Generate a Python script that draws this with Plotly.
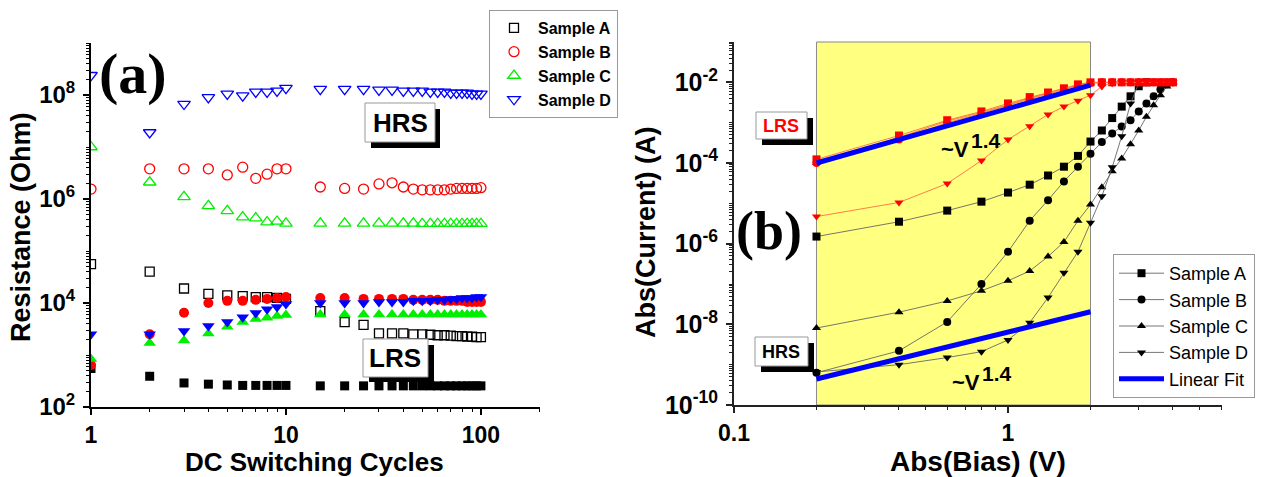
import plotly.graph_objects as go

W, H = 1271, 477
SANS = "Liberation Sans, Arial, sans-serif"
SERIF = "Liberation Serif, Times New Roman, serif"

# ---------------- Panel (a) data ----------------
cycles = [1, 2, 3, 4, 5, 6, 7, 8, 9, 10, 15, 20, 25, 30, 35, 40, 45, 50, 55, 60,
          65, 70, 75, 80, 85, 90, 95, 100]

a_hrs = [5.6e4, 4.0e4, 1.9e4, 1.5e4, 1.4e4, 1.35e4, 1.3e4, 1.3e4, 1.25e4, 1.2e4,
         7.0e3, 4.3e3, 3.8e3, 2.6e3, 2.6e3, 2.6e3, 2.5e3, 2.5e3, 2.45e3, 2.4e3,
         2.4e3, 2.35e3, 2.3e3, 2.3e3, 2.25e3, 2.25e3, 2.2e3, 2.2e3]
a_lrs = [5.5e2, 3.9e2, 2.9e2, 2.75e2, 2.65e2, 2.6e2, 2.6e2, 2.6e2, 2.6e2, 2.6e2,
         2.55e2, 2.55e2, 2.55e2, 2.55e2, 2.55e2, 2.55e2, 2.55e2, 2.55e2, 2.55e2, 2.55e2,
         2.55e2, 2.55e2, 2.55e2, 2.55e2, 2.55e2, 2.55e2, 2.55e2, 2.55e2]
b_hrs = [1.55e6, 3.8e6, 3.8e6, 3.8e6, 2.9e6, 4.1e6, 2.5e6, 3.0e6, 3.8e6, 3.8e6,
         1.7e6, 1.6e6, 1.55e6, 1.95e6, 2.05e6, 1.7e6, 1.55e6, 1.5e6, 1.5e6, 1.5e6,
         1.5e6, 1.55e6, 1.6e6, 1.6e6, 1.6e6, 1.6e6, 1.6e6, 1.65e6]
b_lrs = [6.4e2, 2.5e3, 6.5e3, 1.0e4, 1.1e4, 1.1e4, 1.15e4, 1.2e4, 1.25e4, 1.3e4,
         1.25e4, 1.25e4, 1.2e4, 1.2e4, 1.2e4, 1.2e4, 1.15e4, 1.15e4, 1.15e4, 1.15e4,
         1.1e4, 1.1e4, 1.1e4, 1.1e4, 1.05e4, 1.05e4, 1.05e4, 1.05e4]
c_hrs = [1.0e7, 2.1e6, 1.1e6, 7.4e5, 5.9e5, 4.5e5, 4.3e5, 3.6e5, 3.7e5, 3.4e5,
         3.4e5, 3.4e5, 3.4e5, 3.4e5, 3.4e5, 3.4e5, 3.4e5, 3.35e5, 3.35e5, 3.35e5,
         3.35e5, 3.35e5, 3.35e5, 3.35e5, 3.35e5, 3.35e5, 3.35e5, 3.35e5]
c_lrs = [8.4e2, 1.7e3, 1.9e3, 2.6e3, 3.5e3, 4.3e3, 4.9e3, 5.2e3, 5.6e3, 5.9e3,
         6.0e3, 6.0e3, 6.0e3, 6.0e3, 6.0e3, 6.0e3, 6.0e3, 6.0e3, 6.0e3, 6.0e3,
         6.0e3, 6.0e3, 6.0e3, 6.0e3, 6.0e3, 6.0e3, 6.0e3, 6.0e3]
d_hrs = [2.4e8, 1.9e7, 6.7e7, 9.0e7, 1.05e8, 9.7e7, 1.15e8, 1.15e8, 1.2e8, 1.35e8,
         1.3e8, 1.3e8, 1.3e8, 1.25e8, 1.25e8, 1.2e8, 1.2e8, 1.2e8, 1.15e8, 1.15e8,
         1.15e8, 1.1e8, 1.1e8, 1.1e8, 1.1e8, 1.05e8, 1.05e8, 1.05e8]
d_lrs = [2.5e3, 2.5e3, 2.9e3, 3.6e3, 4.3e3, 5.3e3, 6.4e3, 7.6e3, 8.4e3, 9.6e3,
         1.0e4, 1.0e4, 1.0e4, 1.05e4, 1.05e4, 1.05e4, 1.1e4, 1.1e4, 1.1e4, 1.15e4,
         1.15e4, 1.2e4, 1.2e4, 1.25e4, 1.25e4, 1.25e4, 1.3e4, 1.3e4]

# ---------------- Panel (b) data ----------------
bias = [0.2, 0.4, 0.6, 0.8, 1.0, 1.2, 1.4, 1.6, 1.8, 2.0,
        2.2, 2.4, 2.6, 2.8, 3.0, 3.2, 3.4, 3.6, 3.8, 4.0]

iv_a_hrs = [1.5e-6, 3.5e-6, 6.6e-6, 1.1e-5, 1.85e-5, 2.9e-5, 4.9e-5, 8.1e-5, 1.5e-4, 3.4e-4,
            6.4e-4, 1.3e-3, 2.5e-3, 4.5e-3, 8.0e-3, 1.0e-2]
iv_b_hrs = [6.3e-10, 2.2e-9, 1.15e-8, 1.0e-7, 6.3e-7, 3.7e-6, 1.2e-5, 3.5e-5, 8.1e-5, 1.7e-4,
            3.3e-4, 5.4e-4, 8.0e-4, 1.15e-3, 1.9e-3, 3.0e-3, 4.5e-3, 6.7e-3, 8.9e-3, 1.0e-2]
iv_c_hrs = [8.1e-9, 2.0e-8, 3.8e-8, 6.8e-8, 1.2e-7, 2.1e-7, 4.8e-7, 1.1e-6, 3.7e-6, 9.3e-6,
            2.5e-5, 6.2e-5, 1.3e-4, 2.9e-4, 6.4e-4, 1.4e-3, 2.7e-3, 4.8e-3, 7.9e-3, 1.0e-2]
iv_d_hrs = [6.6e-10, 1.0e-9, 1.5e-9, 2.1e-9, 4.1e-9, 1.1e-8, 4.6e-8, 1.9e-7, 6.3e-7, 3.3e-6,
            1.5e-5, 7.8e-5, 4.6e-4, 3.0e-3, 9.5e-3]

iv_a_lrs = [1.23e-4, 4.8e-4, 1.15e-3, 1.9e-3, 3.0e-3, 4.3e-3, 5.6e-3, 7.1e-3, 8.9e-3, 1.0e-2,
            1.0e-2, 1.0e-2, 1.0e-2, 1.0e-2, 1.0e-2, 1.0e-2, 1.0e-2, 1.0e-2, 1.0e-2, 1.0e-2]
iv_b_lrs = [1.0e-4, 3.8e-4, 1.0e-3, 1.7e-3, 2.7e-3, 3.9e-3, 5.2e-3, 6.6e-3, 8.3e-3, 9.6e-3,
            1.0e-2, 1.0e-2, 1.0e-2, 1.0e-2, 1.0e-2, 1.0e-2, 1.0e-2, 1.0e-2, 1.0e-2, 1.0e-2]
iv_c_lrs = [1.0e-4, 4.3e-4, 1.1e-3, 1.8e-3, 2.8e-3, 4.1e-3, 5.4e-3, 6.9e-3, 8.6e-3, 9.8e-3,
            1.0e-2, 1.0e-2, 1.0e-2, 1.0e-2, 1.0e-2, 1.0e-2, 1.0e-2, 1.0e-2, 1.0e-2, 1.0e-2]
iv_d_lrs = [4.7e-6, 1.05e-5, 3.1e-5, 1.15e-4, 3.8e-4, 8.1e-4, 1.6e-3, 2.5e-3, 3.5e-3, 4.8e-3,
            7.9e-3, 9.5e-3, 1.0e-2, 1.0e-2, 1.0e-2, 1.0e-2, 1.0e-2, 1.0e-2, 1.0e-2, 1.0e-2]

fit_v = [0.2, 2.0]
fit_lrs = [1.0e-4, 8.5e-3]
fit_hrs = [4.4e-10, 2.05e-8]
fit_window = [0.2, 2.0]

sample_names = ["Sample A", "Sample B", "Sample C", "Sample D"]

# ---------------- ticks ----------------
a_x_major = [1, 10, 100]
a_x_minor = [2, 3, 4, 5, 6, 7, 8, 9, 20, 30, 40, 50, 60, 70, 80, 90, 200]
a_y_major = [1e2, 1e4, 1e6, 1e8]
a_y_text = ["10<sup>2</sup>", "10<sup>4</sup>", "10<sup>6</sup>", "10<sup>8</sup>"]
a_y_minor = [m * 10.0 ** e for e in range(2, 9) for m in range(1, 10) if not (m == 1 and e % 2 == 0)] + [1e9]

b_x_major = [0.1, 1]
b_x_minor = [0.2, 0.3, 0.4, 0.5, 0.6, 0.7, 0.8, 0.9, 2, 3, 4, 5, 6]
b_y_major = [1e-10, 1e-8, 1e-6, 1e-4, 1e-2]
b_y_text = ["10<sup>-10</sup>", "10<sup>-8</sup>", "10<sup>-6</sup>", "10<sup>-4</sup>", "10<sup>-2</sup>"]
b_y_minor = [m * 10.0 ** e for e in range(-10, -1) for m in range(1, 10) if not (m == 1 and e % 2 == 0)] + [1e-1]

fig = go.Figure()

# ---------------- Panel (a) traces ----------------
a_style = [
    ("square", "black", a_hrs, a_lrs, 9),
    ("circle", "#ff0000", b_hrs, b_lrs, 10),
    ("triangle-up", "#00ee00", c_hrs, c_lrs, 11),
    ("triangle-down", "#0000ff", d_hrs, d_lrs, 11),
]
for name, (sym, col, hrs, lrs, sz) in zip(sample_names, a_style):
    fig.add_trace(go.Scatter(
        x=cycles, y=hrs, mode="markers", name=name, legend="legend",
        marker=dict(symbol=sym + "-open", size=sz, color=col, line=dict(width=1.3, color=col)),
        xaxis="x", yaxis="y"))
    fig.add_trace(go.Scatter(
        x=cycles, y=lrs, mode="markers", showlegend=False,
        marker=dict(symbol=sym, size=sz, color=col, line=dict(width=0)),
        xaxis="x", yaxis="y"))

# ---------------- Panel (b) traces ----------------
b_syms = ["square", "circle", "triangle-up", "triangle-down"]
hrs_sets = [iv_a_hrs, iv_b_hrs, iv_c_hrs, iv_d_hrs]
lrs_sets = [iv_a_lrs, iv_b_lrs, iv_c_lrs, iv_d_lrs]
for name, sym, ys in zip(sample_names, b_syms, hrs_sets):
    fig.add_trace(go.Scatter(
        x=bias[:len(ys)], y=ys, mode="lines+markers", name=name, legend="legend2",
        line=dict(color="#666666", width=0.9),
        marker=dict(symbol=sym, size=8, color="black"),
        xaxis="x2", yaxis="y2"))
fig.add_trace(go.Scatter(
    x=fit_v, y=fit_hrs, mode="lines", showlegend=False,
    line=dict(color="#0000ff", width=5), xaxis="x2", yaxis="y2"))
for sym, ys in zip(b_syms, lrs_sets):
    fig.add_trace(go.Scatter(
        x=bias[:len(ys)], y=ys, mode="lines+markers", showlegend=False,
        line=dict(color="#ff7040", width=0.9),
        marker=dict(symbol=sym, size=8, color="#ff0000"),
        xaxis="x2", yaxis="y2"))
fig.add_trace(go.Scatter(
    x=fit_v, y=fit_lrs, mode="lines", name="Linear Fit", legend="legend2",
    line=dict(color="#0000ff", width=5), xaxis="x2", yaxis="y2"))

# ---------------- axes ----------------
dom_ax = [91 / W, 540 / W]
dom_ay = [1 - 407 / H, 1 - 43 / H]
dom_bx = [734 / W, 1222 / W]
dom_by = [1 - 405 / H, 1 - 42 / H]
rng_ax = [0, 2.303]
rng_ay = [2, 9]
rng_bx = [-1, 0.781]
rng_by = [-10, -1]


def main_axis(domain, rng, anchor, vals, text, color, fsize, standoff, lw=2):
    return dict(domain=domain, type="log", range=rng, anchor=anchor, automargin=False,
                showline=True, linewidth=lw, linecolor=color, mirror=False,
                ticks="outside", ticklen=6, tickwidth=1.5, tickcolor=color,
                tickvals=vals, ticktext=text, ticklabelstandoff=standoff,
                tickfont=dict(family=SANS, size=fsize, color="black", weight="bold"),
                showgrid=False, zeroline=False)


def mirror_axis(over, side, anchor, rng, vals, minors, color, lw=2):
    return dict(overlaying=over, side=side, anchor=anchor, type="log", range=rng,
                automargin=False,
                showline=True, linewidth=lw, linecolor=color,
                ticks="inside", ticklen=7, tickwidth=1.5, tickcolor=color,
                tickvals=vals, showticklabels=False, showgrid=False, zeroline=False,
                minor=dict(tickvals=minors, ticks="inside", ticklen=4, tickwidth=1,
                           tickcolor=color, showgrid=False))


def add_minor(ax, minors, color):
    ax["minor"] = dict(tickvals=minors, ticks="outside", ticklen=3, tickwidth=1,
                       tickcolor=color, showgrid=False)
    return ax


xa = add_minor(main_axis(dom_ax, rng_ax, "y", a_x_major, ["1", "10", "100"], "black", 23, 0), a_x_minor, "black")
ya = add_minor(main_axis(dom_ay, rng_ay, "x", a_y_major, a_y_text, "black", 24, 3), a_y_minor, "black")
xb = add_minor(main_axis(dom_bx, rng_bx, "y2", b_x_major, ["0.1", "1"], "#222222", 23, 0), b_x_minor, "#222222")
yb = add_minor(main_axis(dom_by, rng_by, "x2", b_y_major, b_y_text, "#222222", 25, 3), b_y_minor, "#222222")

fig.update_layout(
    xaxis=xa, yaxis=ya, xaxis2=xb, yaxis2=yb,
    xaxis3=mirror_axis("x", "top", "y", rng_ax, a_x_major, a_x_minor, "black"),
    yaxis3=mirror_axis("y", "right", "x", rng_ay, a_y_major, a_y_minor, "black"),
    xaxis4=mirror_axis("x2", "top", "y2", rng_bx, b_x_major, b_x_minor, "#222222"),
    yaxis4=mirror_axis("y2", "right", "x2", rng_by, b_y_major, b_y_minor, "#222222"),
)

# ---------------- shapes (highlight + label boxes) ----------------
def px_rect(x0, y0, x1, y1, fill, line_color=None, lw=0):
    return dict(type="rect", xref="paper", yref="paper",
                x0=x0 / W, x1=x1 / W, y0=1 - y1 / H, y1=1 - y0 / H,
                fillcolor=fill, line=dict(color=line_color or fill, width=lw), layer="above")


shapes = [
    dict(type="rect", xref="x2", yref="y2 domain", x0=fit_window[0], x1=fit_window[1], y0=0, y1=1,
         fillcolor="#ffff80", line=dict(color="#888888", width=1), layer="below"),
    # HRS (a)
    px_rect(371, 109, 440, 148, "black"),
    px_rect(365, 103, 435, 142, "white", "#999999", 1),
    # LRS (a)
    px_rect(369, 345, 434, 382, "black"),
    px_rect(363, 339, 428, 377, "white", "#999999", 1),
    # LRS (b)
    px_rect(762, 118, 813, 145, "black"),
    px_rect(756, 112, 807, 139, "white", "#999999", 1),
    # HRS (b)
    px_rect(761, 343, 814, 372, "black"),
    px_rect(755, 337, 808, 366, "white", "#999999", 1),
]


def ann(text, x, y, size, color="black", family=SANS, angle=0, xanchor="center", yanchor="middle"):
    return dict(text=text, x=x / W, y=1 - y / H, xref="paper", yref="paper",
                showarrow=False, textangle=angle, xanchor=xanchor, yanchor=yanchor,
                font=dict(family=family, size=size, color=color))


annotations = [
    ann("<b>Resistance (Ohm)</b>", 21, 227, 27, angle=-90),
    ann("<b>DC Switching Cycles</b>", 314, 462, 26),
    ann("<b>Abs(Current) (A)</b>", 646, 233, 27, angle=-90),
    ann("<b>Abs(Bias) (V)</b>", 978, 461, 28),
    ann("<b>(a)</b>", 133, 73, 58, family=SERIF),
    ann("<b>(b)</b>", 769, 231, 54, family=SERIF),
    ann("<b>HRS</b>", 400, 123, 26),
    ann("<b>LRS</b>", 395, 358, 26),
    ann("<b>LRS</b>", 781, 126, 18, color="#ff0000"),
    ann("<b>HRS</b>", 781, 352, 18),
    ann("<b>~V</b>", 971, 150, 22, xanchor="right"),
    ann("<b>1.4</b>", 969, 140, 21, xanchor="left"),
    ann("<b>~V</b>", 982, 382, 22, xanchor="right"),
    ann("<b>1.4</b>", 980, 373, 21, xanchor="left"),
]

fig.update_layout(
    width=W, height=H, margin=dict(l=0, r=0, t=0, b=0, autoexpand=False),
    paper_bgcolor="white", plot_bgcolor="white",
    shapes=shapes, annotations=annotations,
    font=dict(family=SANS, color="black"),
    legend=dict(x=489 / W, y=1 - 10 / H, xanchor="left", yanchor="top",
                bgcolor="white", bordercolor="#999999", borderwidth=1,
                font=dict(family=SANS, size=16, color="black", weight="bold"),
                tracegroupgap=0, itemsizing="trace", itemwidth=38),
    legend2=dict(x=1113 / W, y=1 - 254 / H, xanchor="left", yanchor="top",
                 bgcolor="white", bordercolor="#999999", borderwidth=1,
                 font=dict(family=SANS, size=18, color="black"),
                 tracegroupgap=0, itemsizing="trace", itemwidth=45),
)

fig.write_html("out.html")
